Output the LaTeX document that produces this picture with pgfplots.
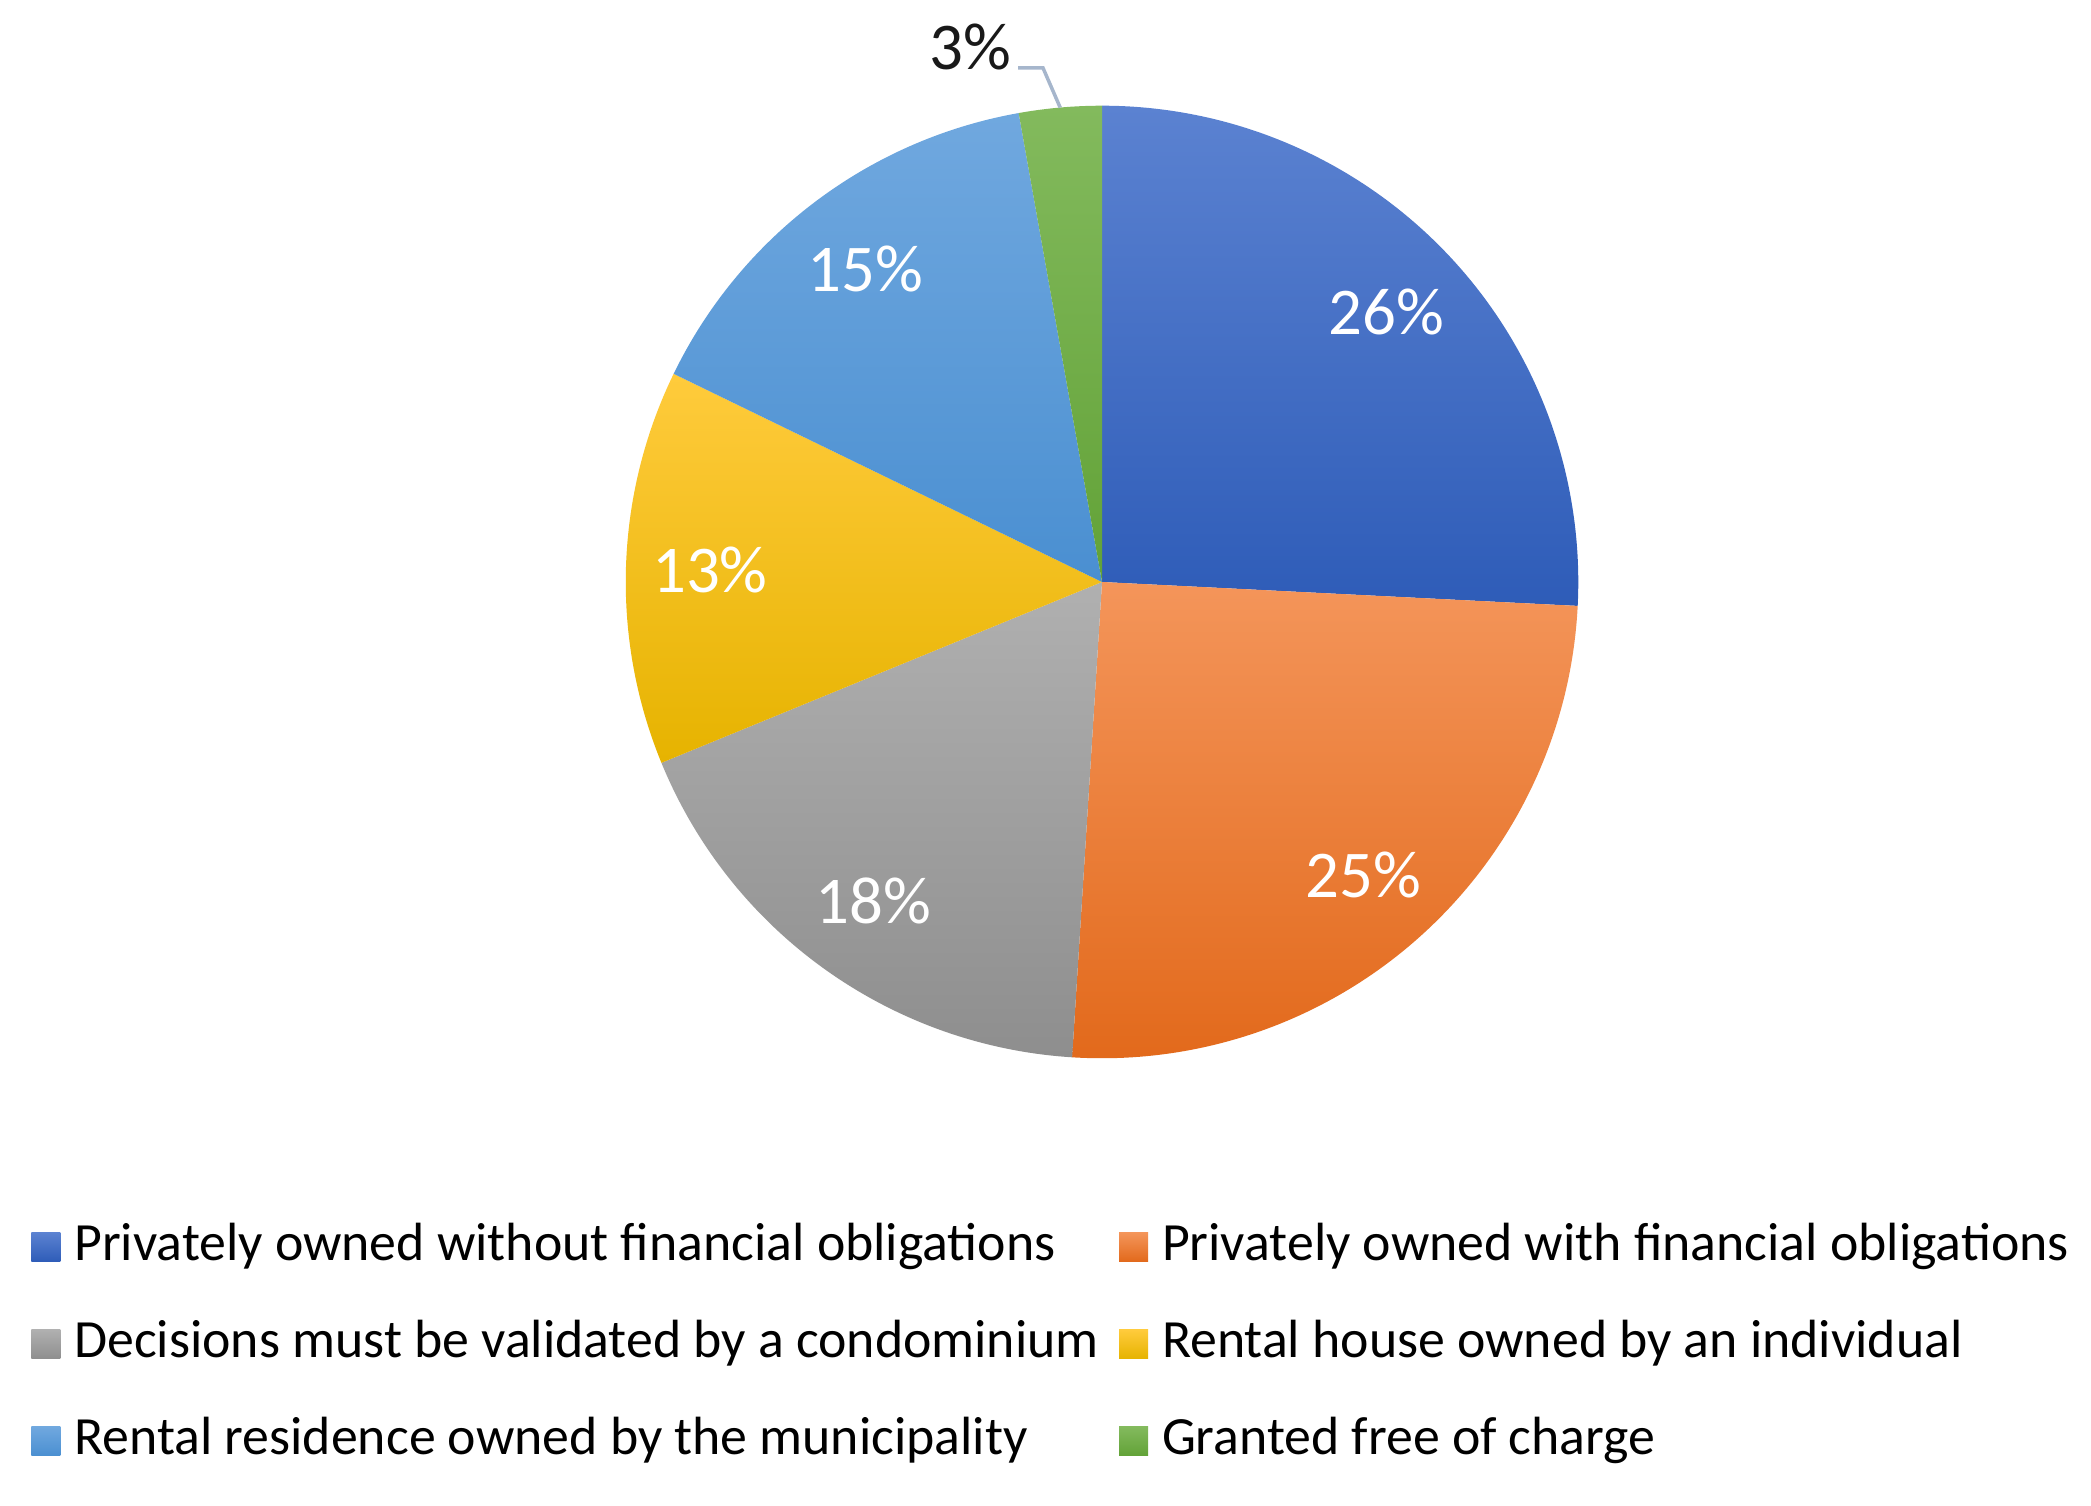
\documentclass[border=0pt]{standalone}
\usepackage{pgfplots}
\usepackage{pgfplotstable}
\pgfplotsset{compat=1.18}
\usepackage{fontspec}
\setmainfont{Carlito}

% slice colours (top / bottom of the gradient)
\definecolor{cAT}{HTML}{5B82D1}\definecolor{cAB}{HTML}{2E5CB8}
\definecolor{cBT}{HTML}{F4955A}\definecolor{cBB}{HTML}{E2691B}
\definecolor{cCT}{HTML}{B0B0B0}\definecolor{cCB}{HTML}{8E8E8E}
\definecolor{cDT}{HTML}{FFCB3C}\definecolor{cDB}{HTML}{E6B300}
\definecolor{cET}{HTML}{70A8DF}\definecolor{cEB}{HTML}{4A8FD1}
\definecolor{cFT}{HTML}{83BA5D}\definecolor{cFB}{HTML}{62A237}
\definecolor{leader}{HTML}{A6B6CC}

% share of each slice (percent), clockwise from 12 o'clock
\pgfplotstableread{
share label
25.8  26
25.2  25
17.8  18
13.4  13
15.0  15
2.8   3
}\piedata

\newcommand\startang{90}

\begin{document}
\begin{tikzpicture}
\begin{axis}[
    x=0.01cm, y=0.01cm,
    xmin=0, xmax=2091, ymin=0, ymax=1505,
    hide axis, clip=false,
    legend columns=2,
    legend cell align=left,
    legend style={
        at={(axis cs:20,292)}, anchor=north west,
        draw=none, fill=none,
        font=\fontsize{15.3}{18}\selectfont,
        row sep=0.44cm,
        column sep=0.14cm,
        nodes={inner sep=0pt, text height=0.4cm, text depth=0.13cm},
        /tikz/every even column/.append style={column sep=0.2cm},
    },
]
    \path (rel axis cs:0,0) rectangle (rel axis cs:1,1);

    \addlegendimage{legend image code/.code={\path[draw=none, top color=cAT, bottom color=cAB] (0cm,-0.145cm) rectangle (0.29cm,0.145cm);}}
    \addlegendentry{Privately owned without financial obligations}
    \addlegendimage{legend image code/.code={\path[draw=none, top color=cBT, bottom color=cBB] (0cm,-0.145cm) rectangle (0.29cm,0.145cm);}}
    \addlegendentry{Privately owned with financial obligations}
    \addlegendimage{legend image code/.code={\path[draw=none, top color=cCT, bottom color=cCB] (0cm,-0.145cm) rectangle (0.29cm,0.145cm);}}
    \addlegendentry{Decisions must be validated by a condominium}
    \addlegendimage{legend image code/.code={\path[draw=none, top color=cDT, bottom color=cDB] (0cm,-0.145cm) rectangle (0.29cm,0.145cm);}}
    \addlegendentry{Rental house owned by an individual}
    \addlegendimage{legend image code/.code={\path[draw=none, top color=cET, bottom color=cEB] (0cm,-0.145cm) rectangle (0.29cm,0.145cm);}}
    \addlegendentry{Rental residence owned by the municipality}
    \addlegendimage{legend image code/.code={\path[draw=none, top color=cFT, bottom color=cFB] (0cm,-0.145cm) rectangle (0.29cm,0.145cm);}}
    \addlegendentry{Granted free of charge}

    \pgfplotsextra{
        \foreach \i/\ct/\cb in {0/cAT/cAB,1/cBT/cBB,2/cCT/cCB,3/cDT/cDB,4/cET/cEB,5/cFT/cFB}{
            \pgfplotstablegetelem{\i}{share}\of\piedata
            \pgfmathsetmacro\sa{\startang}
            \pgfmathsetmacro\ea{\startang-3.6*\pgfplotsretval}
            \pgfmathsetmacro\ma{(\sa+\ea)/2}
            \path[top color=\ct, bottom color=\cb]
                (axis cs:1102,923) -- ++(\sa:4.76cm)
                arc[start angle=\sa, end angle=\ea, radius=4.76cm] -- cycle;
            \pgfplotstablegetelem{\i}{label}\of\piedata
            \ifnum\i<5
                \path (axis cs:1102,923) ++(\ma:3.92cm)
                    node[text=white, font=\fontsize{19}{21}\selectfont] {\pgfplotsretval\%};
            \else
                \draw[leader, line width=0.035cm] (axis cs:1102,923) ++(\ma:4.76cm)
                    -- (axis cs:1043,1437) -- (axis cs:1018,1437);
                \node[text=black!90, font=\fontsize{19}{21}\selectfont, anchor=base]
                    at (axis cs:970,1435) {\pgfplotsretval\%};
            \fi
            \xdef\startang{\ea}
        }
    }
\end{axis}
\end{tikzpicture}
\end{document}
